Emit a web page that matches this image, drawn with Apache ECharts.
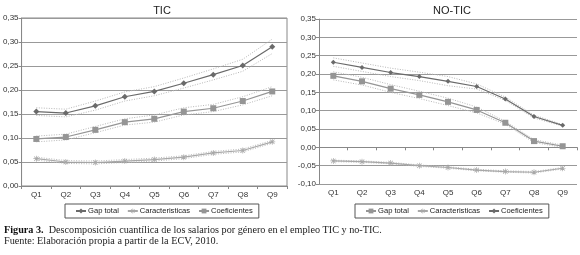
<!DOCTYPE html>
<html><head><meta charset="utf-8">
<script src="https://cdn.jsdelivr.net/npm/echarts@6/dist/echarts.min.js"></script>
<style>html,body{margin:0;padding:0;background:#fff}#c{width:580px;height:255px}</style>
</head><body><div id="c"></div>
<script>
var categories = ['Q1','Q2','Q3','Q4','Q5','Q6','Q7','Q8','Q9'];
var yTicksTic = [0, 0.05, 0.10, 0.15, 0.20, 0.25, 0.30, 0.35];
var yTicksNoTic = [-0.10, -0.05, 0, 0.05, 0.10, 0.15, 0.20, 0.25, 0.30, 0.35];

// TIC
var ticGap   = [0.155, 0.152, 0.167, 0.186, 0.197, 0.214, 0.232, 0.251, 0.290];
var ticGapHi = [0.163, 0.160, 0.177, 0.196, 0.207, 0.225, 0.244, 0.264, 0.306];
var ticGapLo = [0.147, 0.144, 0.158, 0.177, 0.188, 0.204, 0.221, 0.239, 0.276];
var ticCar   = [0.057, 0.050, 0.049, 0.052, 0.055, 0.060, 0.069, 0.074, 0.092];
var ticCarHi = [0.060, 0.053, 0.052, 0.055, 0.058, 0.063, 0.072, 0.077, 0.095];
var ticCarLo = [0.054, 0.047, 0.046, 0.049, 0.052, 0.057, 0.066, 0.071, 0.089];
var ticCoef   = [0.098, 0.102, 0.117, 0.133, 0.140, 0.155, 0.162, 0.177, 0.197];
var ticCoefHi = [0.104, 0.108, 0.124, 0.140, 0.148, 0.163, 0.170, 0.186, 0.207];
var ticCoefLo = [0.092, 0.096, 0.111, 0.127, 0.133, 0.148, 0.155, 0.169, 0.188];

// NO-TIC
var noGap   = [0.195, 0.180, 0.160, 0.143, 0.124, 0.102, 0.067, 0.017, 0.003];
var noGapHi = [0.206, 0.191, 0.171, 0.153, 0.134, 0.110, 0.071, 0.021, 0.006];
var noGapLo = [0.184, 0.170, 0.150, 0.133, 0.114, 0.094, 0.063, 0.013, 0.000];
var noCar   = [-0.037, -0.039, -0.043, -0.050, -0.055, -0.062, -0.066, -0.068, -0.057];
var noCarHi = [-0.035, -0.037, -0.041, -0.048, -0.053, -0.060, -0.064, -0.066, -0.055];
var noCarLo = [-0.039, -0.041, -0.045, -0.052, -0.057, -0.064, -0.068, -0.070, -0.059];
var noCoef   = [0.232, 0.218, 0.204, 0.193, 0.180, 0.166, 0.132, 0.084, 0.060];
var noCoefHi = [0.244, 0.230, 0.216, 0.205, 0.193, 0.173, 0.137, 0.088, 0.062];
var noCoefLo = [0.221, 0.207, 0.193, 0.182, 0.168, 0.159, 0.128, 0.080, 0.058];

var legendNames = ['Gap total', 'Caracteristicas', 'Coeficientes'];
var titles = ['TIC', 'NO-TIC'];
var caption1Bold = 'Figura 3.';
var caption1 = '  Descomposición cuantílica de los salarios por género en el empleo TIC y no-TIC.';
var caption2 = 'Fuente: Elaboración propia a partir de la ECV, 2010.';

var SANS = 'Liberation Sans, Arial, sans-serif';
var SERIF = 'Liberation Serif, DejaVu Serif, serif';
var starPath = 'path://M1,0 L5,4 L9,0 L10,1 L6,5 L10,9 L9,10 L5,6 L1,10 L0,9 L4,5 L0,1 Z M4.3,-1 L5.7,-1 L5.7,11 L4.3,11 Z M-1,4.3 L11,4.3 L11,5.7 L-1,5.7 Z';

function fmt(v){ return v.toFixed(2).replace('.', ','); }

function mainSeries(name, data, idx, color, symbol, size, width){
  return {type:'line', name:name, data:data, xAxisIndex:idx, yAxisIndex:idx,
    symbol:symbol, symbolSize:size, lineStyle:{color:color, width:width},
    itemStyle:{color:color}, z:5, silent:true, animation:false};
}
function band(data, idx){
  return {type:'line', data:data, xAxisIndex:idx, yAxisIndex:idx, symbol:'none',
    lineStyle:{color:'#b8b8b8', width:1, type:[1,1.5]}, z:3, silent:true, animation:false};
}
function yAxis(idx, ticks){
  return {type:'value', gridIndex:idx, min:ticks[0], max:ticks[ticks.length-1], interval:0.05,
    axisLine:{show:true, lineStyle:{color:'#888'}},
    axisTick:{show:true, length:3, lineStyle:{color:'#888'}},
    axisLabel:{fontFamily:SANS, fontSize:8, color:'#333', margin:3, formatter:fmt},
    splitLine:{show:true, lineStyle:{color:'#999', width:1}}};
}
function legendFmt(n){ return n.replace(' (NO-TIC)', ''); }
var legendCommon = {padding:[3,6,3,10], itemGap:8, itemWidth:10, itemHeight:6,
  borderColor:'#555', borderWidth:1, textStyle:{fontFamily:SANS, fontSize:7.6, color:'#222', padding:[0,0,0,-3]}};

var chart = echarts.init(document.getElementById('c'), null, {renderer:'canvas'});
chart.setOption({
  backgroundColor:'#fff',
  animation:false,
  title:[
    {text:titles[0], left:157, top:0, textAlign:'center', textStyle:{fontFamily:SANS, fontSize:11, fontWeight:'normal', color:'#222'}},
    {text:titles[1], left:447, top:0, textAlign:'center', textStyle:{fontFamily:SANS, fontSize:11, fontWeight:'normal', color:'#222'}}
  ],
  grid:[
    {left:21, right:293, top:18, bottom:69, show:true, borderColor:'#888', borderWidth:1, backgroundColor:'transparent'},
    {left:319, right:3, top:19, bottom:71}
  ],
  xAxis:[
    {type:'category', gridIndex:0, data:categories, boundaryGap:true,
     axisLine:{show:true, onZero:false, lineStyle:{color:'#888'}},
     axisTick:{show:true, length:3, lineStyle:{color:'#888'}},
     axisLabel:{fontFamily:SANS, fontSize:8, color:'#333', margin:5}, splitLine:{show:false}},
    {type:'category', gridIndex:1, data:categories, boundaryGap:true, position:'bottom',
     axisLine:{show:false, onZero:false}, axisTick:{show:false},
     axisLabel:{fontFamily:SANS, fontSize:8, color:'#333', margin:5}, splitLine:{show:false}},
    {type:'category', gridIndex:1, data:categories, boundaryGap:true, position:'bottom', offset:-36.7,
     axisLine:{show:true, onZero:false, lineStyle:{color:'#888'}},
     axisTick:{show:true, length:3, lineStyle:{color:'#888'}},
     axisLabel:{show:false}, splitLine:{show:false}}
  ],
  yAxis:[yAxis(0, yTicksTic), yAxis(1, yTicksNoTic)],
  legend:[
    Object.assign({data:legendNames, left:65, top:204}, legendCommon),
    Object.assign({data:legendNames.map(function(n){return n+' (NO-TIC)';}), formatter:legendFmt, left:355, top:204}, legendCommon)
  ],
  series:[
    band(ticGapHi,0), band(ticGapLo,0), band(ticCarHi,0), band(ticCarLo,0), band(ticCoefHi,0), band(ticCoefLo,0),
    mainSeries('Gap total', ticGap, 0, '#6a6a6a', 'diamond', 6, 1.2),
    mainSeries('Caracteristicas', ticCar, 0, '#a8a8a8', starPath, 6, 1.2),
    mainSeries('Coeficientes', ticCoef, 0, '#959595', 'rect', 6, 1.2),
    band(noGapHi,1), band(noGapLo,1), band(noCarHi,1), band(noCarLo,1), band(noCoefHi,1), band(noCoefLo,1),
    mainSeries('Gap total (NO-TIC)', noGap, 1, '#959595', 'rect', 6, 1.2),
    mainSeries('Caracteristicas (NO-TIC)', noCar, 1, '#a8a8a8', starPath, 6, 1.2),
    mainSeries('Coeficientes (NO-TIC)', noCoef, 1, '#6a6a6a', 'diamond', 5, 1.2)
  ],
  graphic:[
    {type:'text', left:4, top:225, style:{
      text:'{b|'+caption1Bold+'}{n|'+caption1+'}\n{n|'+caption2+'}',
      rich:{b:{fontFamily:SERIF, fontSize:10.2, fontWeight:'bold', fill:'#111', lineHeight:11},
            n:{fontFamily:SERIF, fontSize:10.2, fill:'#222', lineHeight:11}}}}
  ]
});
</script></body></html>
